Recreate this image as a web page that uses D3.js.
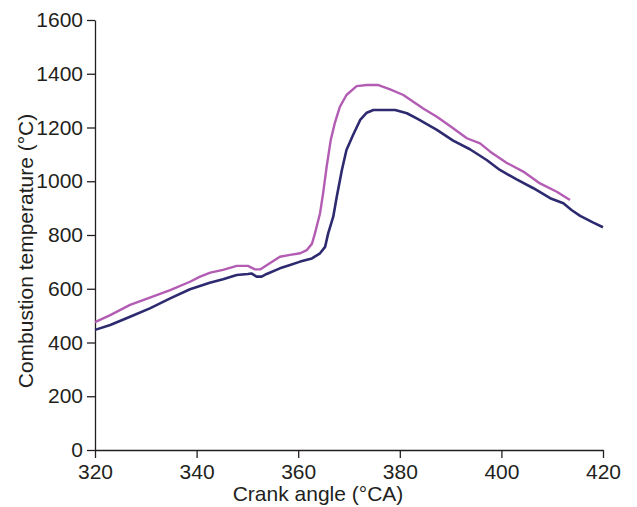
<!DOCTYPE html>
<html>
<head>
<meta charset="utf-8">
<script src="https://cdn.jsdelivr.net/npm/d3@7/dist/d3.min.js"></script>
<style>
  html, body { margin: 0; padding: 0; background: #fff; }
  svg { display: block; }
  text { font-family: "Liberation Sans", Arial, Helvetica, sans-serif; fill: #231f20; }
</style>
</head>
<body>
<svg id="chart" width="637" height="507"></svg>
<script>
// Crank angle (°CA) and temperature (°C)
const magentaAngle = [320, 323.0, 326.9, 330.8, 334.8, 338.7, 340.7, 342.7, 345.2, 347.9, 350.1, 351.5, 352.5, 354.4, 356.4, 358.4, 360.4, 361.7, 362.7, 363.3, 364.3, 364.9, 365.6, 366.4, 367.2, 368.2, 369.5, 371.5, 373.5, 375.8, 378.1, 380.7, 383.6, 384.6, 387.3, 390.5, 393.2, 395.8, 397.8, 401.0, 404.3, 407.6, 410.9, 413.5];
const magentaTemp  = [476, 502, 540, 567, 595, 626, 645, 660, 670, 685, 685, 672, 672, 695, 719, 726, 732, 744, 767, 806, 881, 955, 1054, 1153, 1216, 1277, 1321, 1354, 1358, 1358, 1342, 1321, 1284, 1271, 1240, 1197, 1160, 1141, 1110, 1069, 1036, 992, 961, 930];

const navyAngle = [320, 323.0, 326.9, 330.8, 334.8, 338.7, 342.6, 345.2, 347.9, 350.1, 350.8, 351.8, 352.8, 353.8, 356.4, 358.4, 360.4, 362.7, 364.3, 365.3, 365.9, 366.9, 367.6, 368.6, 369.5, 370.8, 372.2, 373.5, 374.8, 379.1, 381.4, 383.6, 387.3, 390.5, 393.8, 397.1, 399.7, 403.0, 406.3, 409.6, 412.2, 413.8, 415.5, 418.1, 420];
const navyTemp  = [447, 465, 496, 527, 564, 598, 622, 635, 651, 655, 657, 645, 645, 655, 676, 688, 701, 713, 732, 756, 806, 868, 943, 1042, 1116, 1172, 1228, 1255, 1265, 1265, 1253, 1231, 1191, 1151, 1119, 1079, 1042, 1007, 974, 937, 918, 893, 871, 846, 829];

const xTicks = [320, 340, 360, 380, 400, 420];
const yTicks = [0, 200, 400, 600, 800, 1000, 1200, 1400, 1600];

const svg = d3.select("#chart");
const x = d3.scaleLinear().domain([320, 420]).range([95, 603]);
const y = d3.scaleLinear().domain([0, 1600]).range([450, 20]);

const axisColor = "#231f20";

const xAxis = svg.append("g")
  .attr("transform", "translate(0,450)")
  .call(d3.axisBottom(x).tickValues(xTicks).tickSize(8).tickSizeOuter(0).tickPadding(6).tickFormat(d3.format("d")));
const yAxis = svg.append("g")
  .attr("transform", "translate(95,0)")
  .call(d3.axisLeft(y).tickValues(yTicks).tickSize(8).tickSizeOuter(0).tickPadding(4).tickFormat(d3.format("d")));

[xAxis, yAxis].forEach(g => {
  g.selectAll("path.domain").attr("stroke", axisColor).attr("stroke-width", 1.3);
  g.selectAll(".tick line").attr("stroke", axisColor).attr("stroke-width", 1.3);
  g.selectAll(".tick text").style("font-size", "21px").style("font-family", "'Liberation Sans', Arial, sans-serif").attr("fill", axisColor);
});

const line = d3.line().x(d => x(d[0])).y(d => y(d[1]));

svg.append("path")
  .datum(magentaAngle.map((a, i) => [a, magentaTemp[i]]))
  .attr("d", line)
  .attr("fill", "none")
  .attr("stroke", "#b35cb3")
  .attr("stroke-width", 2.4)
  .attr("stroke-linejoin", "round");

svg.append("path")
  .datum(navyAngle.map((a, i) => [a, navyTemp[i]]))
  .attr("d", line)
  .attr("fill", "none")
  .attr("stroke", "#2d2a70")
  .attr("stroke-width", 2.6)
  .attr("stroke-linejoin", "round");

svg.append("text")
  .attr("x", 318).attr("y", 501)
  .attr("text-anchor", "middle")
  .style("font-size", "21px")
  .text("Crank angle (°CA)");

svg.append("text")
  .attr("transform", "translate(33,251) rotate(-90)")
  .attr("text-anchor", "middle")
  .style("font-size", "21px")
  .text("Combustion temperature (°C)");
</script>
</body>
</html>
